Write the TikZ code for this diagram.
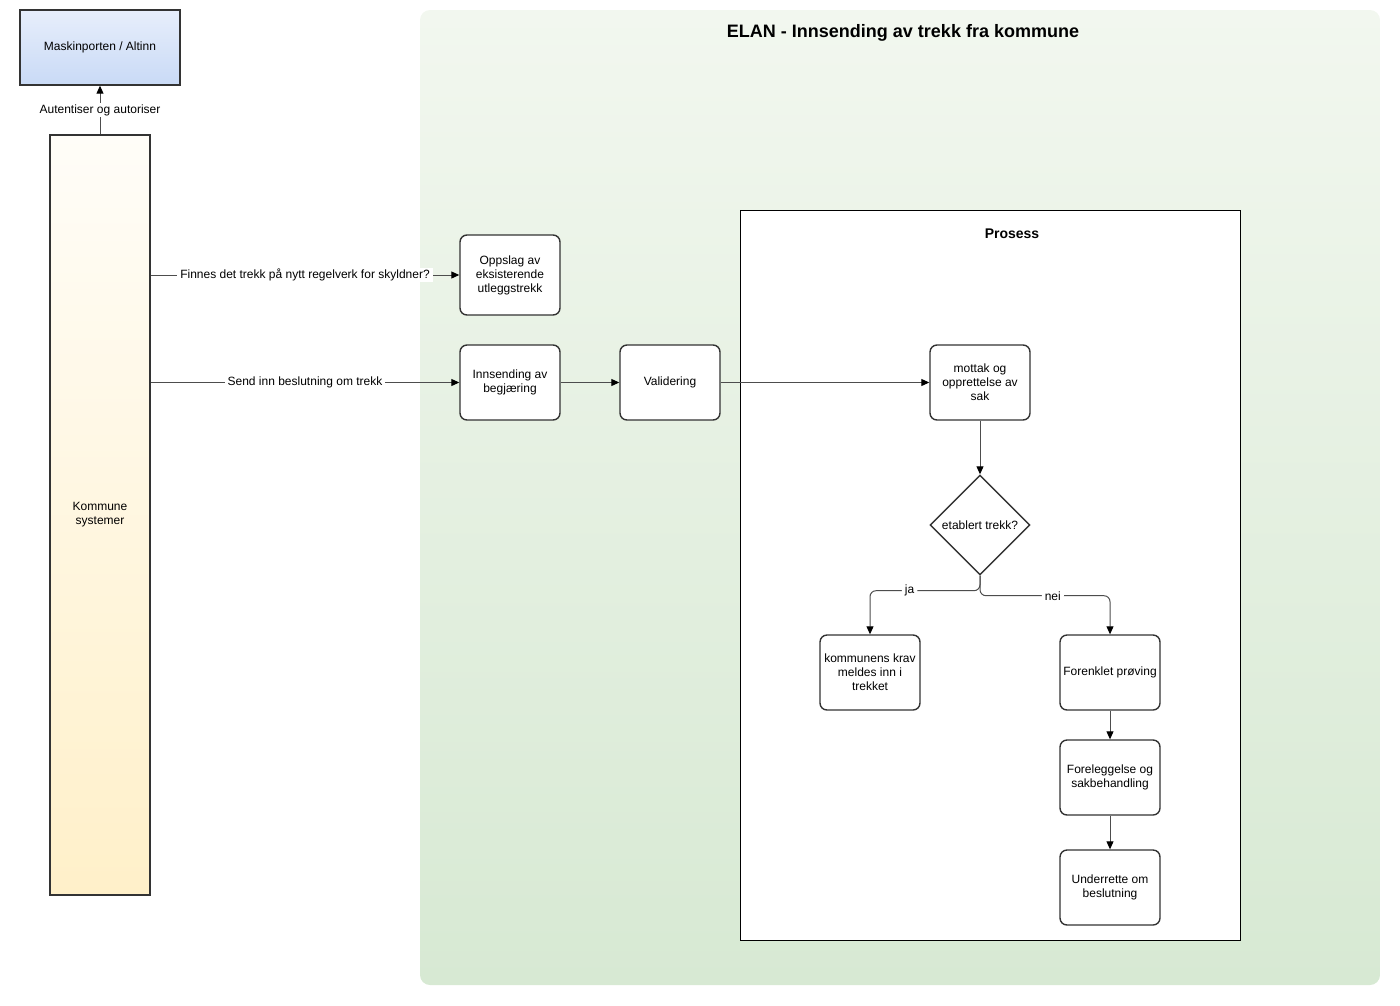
\documentclass[tikz,border=0pt]{standalone}
\usepackage{fontspec}
\setmainfont{Liberation Sans}
\usepackage{xcolor}
\usetikzlibrary{arrows.meta}
\usetikzlibrary{shapes.geometric}

\definecolor{boxline}{HTML}{333333}
\definecolor{edgegray}{HTML}{4D4D4D}
\definecolor{bluetop}{HTML}{E7EEFB}
\definecolor{bluebot}{HTML}{C9DAF6}
\definecolor{yellowtop}{HTML}{FFFDF8}
\definecolor{yellowbot}{HTML}{FFF0C9}
\definecolor{greentop}{HTML}{F2F7EF}
\definecolor{greenbot}{HTML}{D7E9D3}

\begin{document}
\begin{tikzpicture}[x = 1pt, y = -1pt,
  box/.style = {draw = boxline, line width = 1.4pt, fill = white, rounded corners = 7pt, minimum width = 100pt, minimum height = 75pt, inner sep = 0pt, align = center, font = \fontsize{12}{14}\selectfont},
  flow/.style = {draw = edgegray, line width = 1pt, -{Triangle[length = 8pt, width = 7pt, color = black]}},
  lbl/.style = {fill = white, inner xsep = 3pt, inner ysep = 1pt, font = \fontsize{12}{14}\selectfont}]
 \useasboundingbox (0, 0) rectangle (1400, 1005);
 % ytre felt
 \node (elan) at (900, 497.5) [minimum width = 960pt, minimum height = 975pt, rounded corners = 10pt, top color = greentop, bottom color = greenbot] {};
 \node (tittel) at (903, 33) [font = \fontsize{18}{21}\selectfont\bfseries] {ELAN - Innsending av trekk fra kommune};
 \node (prosess) at (990, 575) [draw, line width = .8pt, fill = white, minimum width = 500pt, minimum height = 730pt] {};
 \node (prosesstekst) at (1012, 234) [font = \fontsize{14}{16}\selectfont\bfseries] {Prosess};
 % venstre side
 \node (maskin) at (100, 47.5) [box, rounded corners = 0pt, minimum width = 160pt, top color = bluetop, bottom color = bluebot] {Maskinporten / Altinn};
 \node (kommune) at (100, 515) [box, rounded corners = 0pt, minimum height = 760pt, top color = yellowtop, bottom color = yellowbot] {Kommune\\systemer};
 % boksene
 \node (oppslag) at (510, 275) [box, minimum height = 80pt] {Oppslag av\\eksisterende\\utleggstrekk};
 \node (innsending) at (510, 382.5) [box] {Innsending av\\begjæring};
 \node (validering) at (670, 382.5) [box] {Validering};
 \node (mottak) at (980, 382.5) [box] {mottak og\\opprettelse av\\sak};
 \node (beslut) at (980, 525) [draw = boxline, line width = 1.4pt, fill = white, diamond, minimum width = 100pt, minimum height = 100pt, inner sep = 0pt, font = \fontsize{12}{14}\selectfont] {etablert trekk?};
 \node (krav) at (870, 672.5) [box] {kommunens krav\\meldes inn i\\trekket};
 \node (forenklet) at (1110, 672.5) [box] {Forenklet prøving};
 \node (foreleggelse) at (1110, 777.5) [box] {Foreleggelse og\\sakbehandling};
 \node (underrette) at (1110, 887.5) [box] {Underrette om\\beslutning};
 % piler
 \draw[flow] (kommune.north) -- node[lbl] {Autentiser og autoriser} (maskin.south);
 \draw[flow] (kommune.east |- oppslag.west) -- node[lbl] {Finnes det trekk på nytt regelverk for skyldner?} (oppslag.west);
 \draw[flow] (kommune.east |- innsending.west) -- node[lbl] {Send inn beslutning om trekk} (innsending.west);
 \draw[flow] (innsending) -- (validering);
 \draw[flow] (validering) -- (mottak);
 \draw[flow] (mottak) -- (beslut);
 \draw[flow, rounded corners = 6pt] (beslut.south) -- ++(0, 15) -| node[lbl, pos = .32] {ja} (krav.north);
 \draw[flow, rounded corners = 6pt] (beslut.south) -- ++(0, 20) -| node[lbl, pos = .28] {nei} (forenklet.north);
 \draw[flow] (forenklet) -- (foreleggelse);
 \draw[flow] (foreleggelse) -- (underrette);
\end{tikzpicture}
\end{document}
